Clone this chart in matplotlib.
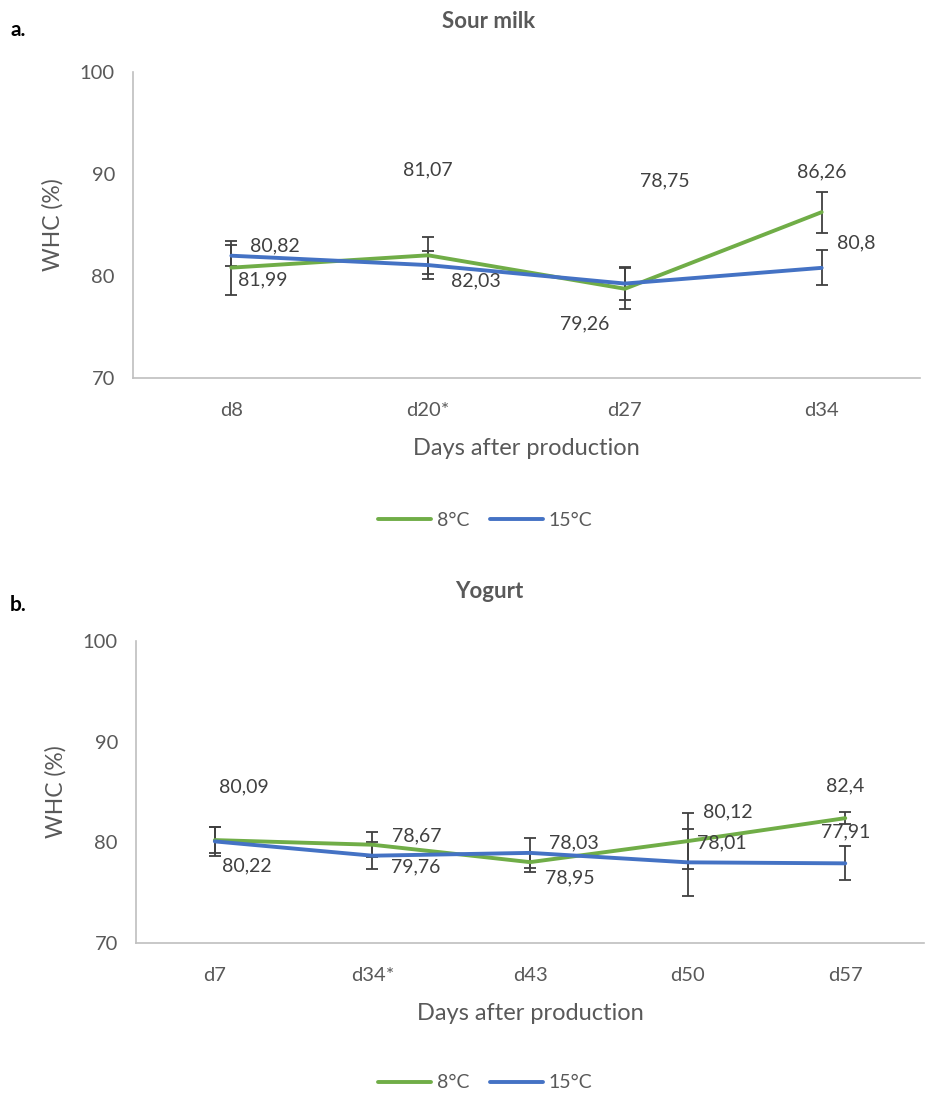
import matplotlib
matplotlib.use("Agg")
import matplotlib.pyplot as plt
from matplotlib.lines import Line2D

plt.rcParams['font.family'] = ['Lato', 'DejaVu Sans']

# ---- data ----
cats_a = ["d8", "d20*", "d27", "d34"]
green_a = [80.82, 82.03, 78.75, 86.26]
blue_a = [81.99, 81.07, 79.26, 80.80]
green_a_err = [2.64, 1.83, 2.0, 2.0]
blue_a_err = [1.05, 1.40, 1.6, 1.7]
green_a_lab = ["80,82", "82,03", "78,75", "86,26"]
blue_a_lab = ["81,99", "81,07", "79,26", "80,8"]

cats_b = ["d7", "d34*", "d43", "d50", "d57"]
green_b = [80.22, 79.76, 78.03, 80.12, 82.40]
blue_b = [80.09, 78.67, 78.95, 78.01, 77.91]
green_b_err = [1.30, 1.26, 0.95, 2.80, 0.60]
blue_b_err = [1.45, 1.37, 1.50, 3.30, 1.70]
green_b_lab = ["80,22", "79,76", "78,03", "80,12", "82,4"]
blue_b_lab = ["80,09", "78,67", "78,95", "78,01", "77,91"]

# label offsets (pixels) - layout only
green_a_off = [(44, 22), (48, -26), (40, 108), (0, 40)]
blue_a_off = [(31, -24), (0, 95), (-40, -40), (35, 25)]
green_b_off = [(32, -26), (43, -22), (44, 19), (40, 29), (0, 32)]
blue_b_off = [(29, 55), (44, 20), (40, -25), (34, 19), (0, 31)]

GREEN = "#70AD47"
BLUE = "#4472C4"
TXT = "#595959"
ERR = "#404040"
SPINE = "#BFBFBF"

fig = plt.figure(figsize=(9.26, 10.97), dpi=100)


def panel(rect, cats, g, b, ge, be, gl, bl, goff, boff, title, tag, tag_y, title_y, legend_y):
    ax = fig.add_axes(rect)
    x = list(range(len(cats)))
    ax.errorbar(x, g, yerr=ge, fmt='none', ecolor=ERR, elinewidth=1.3, capsize=4.5, capthick=1.3, zorder=2)
    ax.errorbar(x, b, yerr=be, fmt='none', ecolor=ERR, elinewidth=1.3, capsize=4.5, capthick=1.3, zorder=2)
    ax.plot(x, g, color=GREEN, lw=2.8, solid_capstyle='round', zorder=3)
    ax.plot(x, b, color=BLUE, lw=2.8, solid_capstyle='round', zorder=3)
    for xi, yi, lab, off in zip(x, g, gl, goff):
        ax.annotate(lab, (xi, yi), xytext=off, textcoords='offset pixels',
                    ha='center', va='center', fontsize=14, color='#404040', zorder=4)
    for xi, yi, lab, off in zip(x, b, bl, boff):
        ax.annotate(lab, (xi, yi), xytext=off, textcoords='offset pixels',
                    ha='center', va='center', fontsize=14, color='#404040', zorder=4)
    ax.set_xlim(-0.5, len(cats) - 0.5)
    ax.set_ylim(70, 100)
    ax.set_yticks([70, 80, 90, 100])
    ax.set_xticks(x)
    ax.set_xticklabels(cats)
    ax.tick_params(axis='both', length=0, labelsize=14.5, colors=TXT)
    ax.tick_params(axis='y', pad=13)
    ax.tick_params(axis='x', pad=17)
    for s in ['top', 'right']:
        ax.spines[s].set_visible(False)
    for s in ['left', 'bottom']:
        ax.spines[s].set_color(SPINE)
        ax.spines[s].set_linewidth(1.2)
    ax.set_ylabel("WHC (%)", fontsize=16.5, color=TXT, labelpad=12)
    ax.set_xlabel("Days after production", fontsize=17, color=TXT, labelpad=14)
    fig.text(0.528, title_y, title, ha='center', va='center', fontsize=16, fontweight='bold', color=TXT)
    fig.text(0.011, tag_y, tag, ha='left', va='center', fontsize=15, fontweight='bold', color='black')
    handles = [Line2D([0], [0], color=GREEN, lw=2.8, solid_capstyle='round'),
               Line2D([0], [0], color=BLUE, lw=2.8, solid_capstyle='round')]
    fig.legend(handles, ["8°C", "15°C"], loc='center', bbox_to_anchor=(0.524, legend_y), ncol=2,
               frameon=False, fontsize=14, labelcolor=TXT, handlelength=2.7, handletextpad=0.3,
               columnspacing=1.1)
    return ax


panel([0.1436, 0.6554, 0.850, 0.279], cats_a, green_a, blue_a, green_a_err, blue_a_err,
      green_a_lab, blue_a_lab, green_a_off, blue_a_off, "Sour milk", "a.",
      1 - 30 / 1097, 1 - 22 / 1097, 1 - 520 / 1097)
panel([0.1469, 0.1404, 0.851, 0.2753], cats_b, green_b, blue_b, green_b_err, blue_b_err,
      green_b_lab, blue_b_lab, green_b_off, blue_b_off, "Yogurt", "b.",
      1 - 605 / 1097, 1 - 592 / 1097, 1 - 1083 / 1097)

fig.savefig("out.png", dpi=100, facecolor='white')
